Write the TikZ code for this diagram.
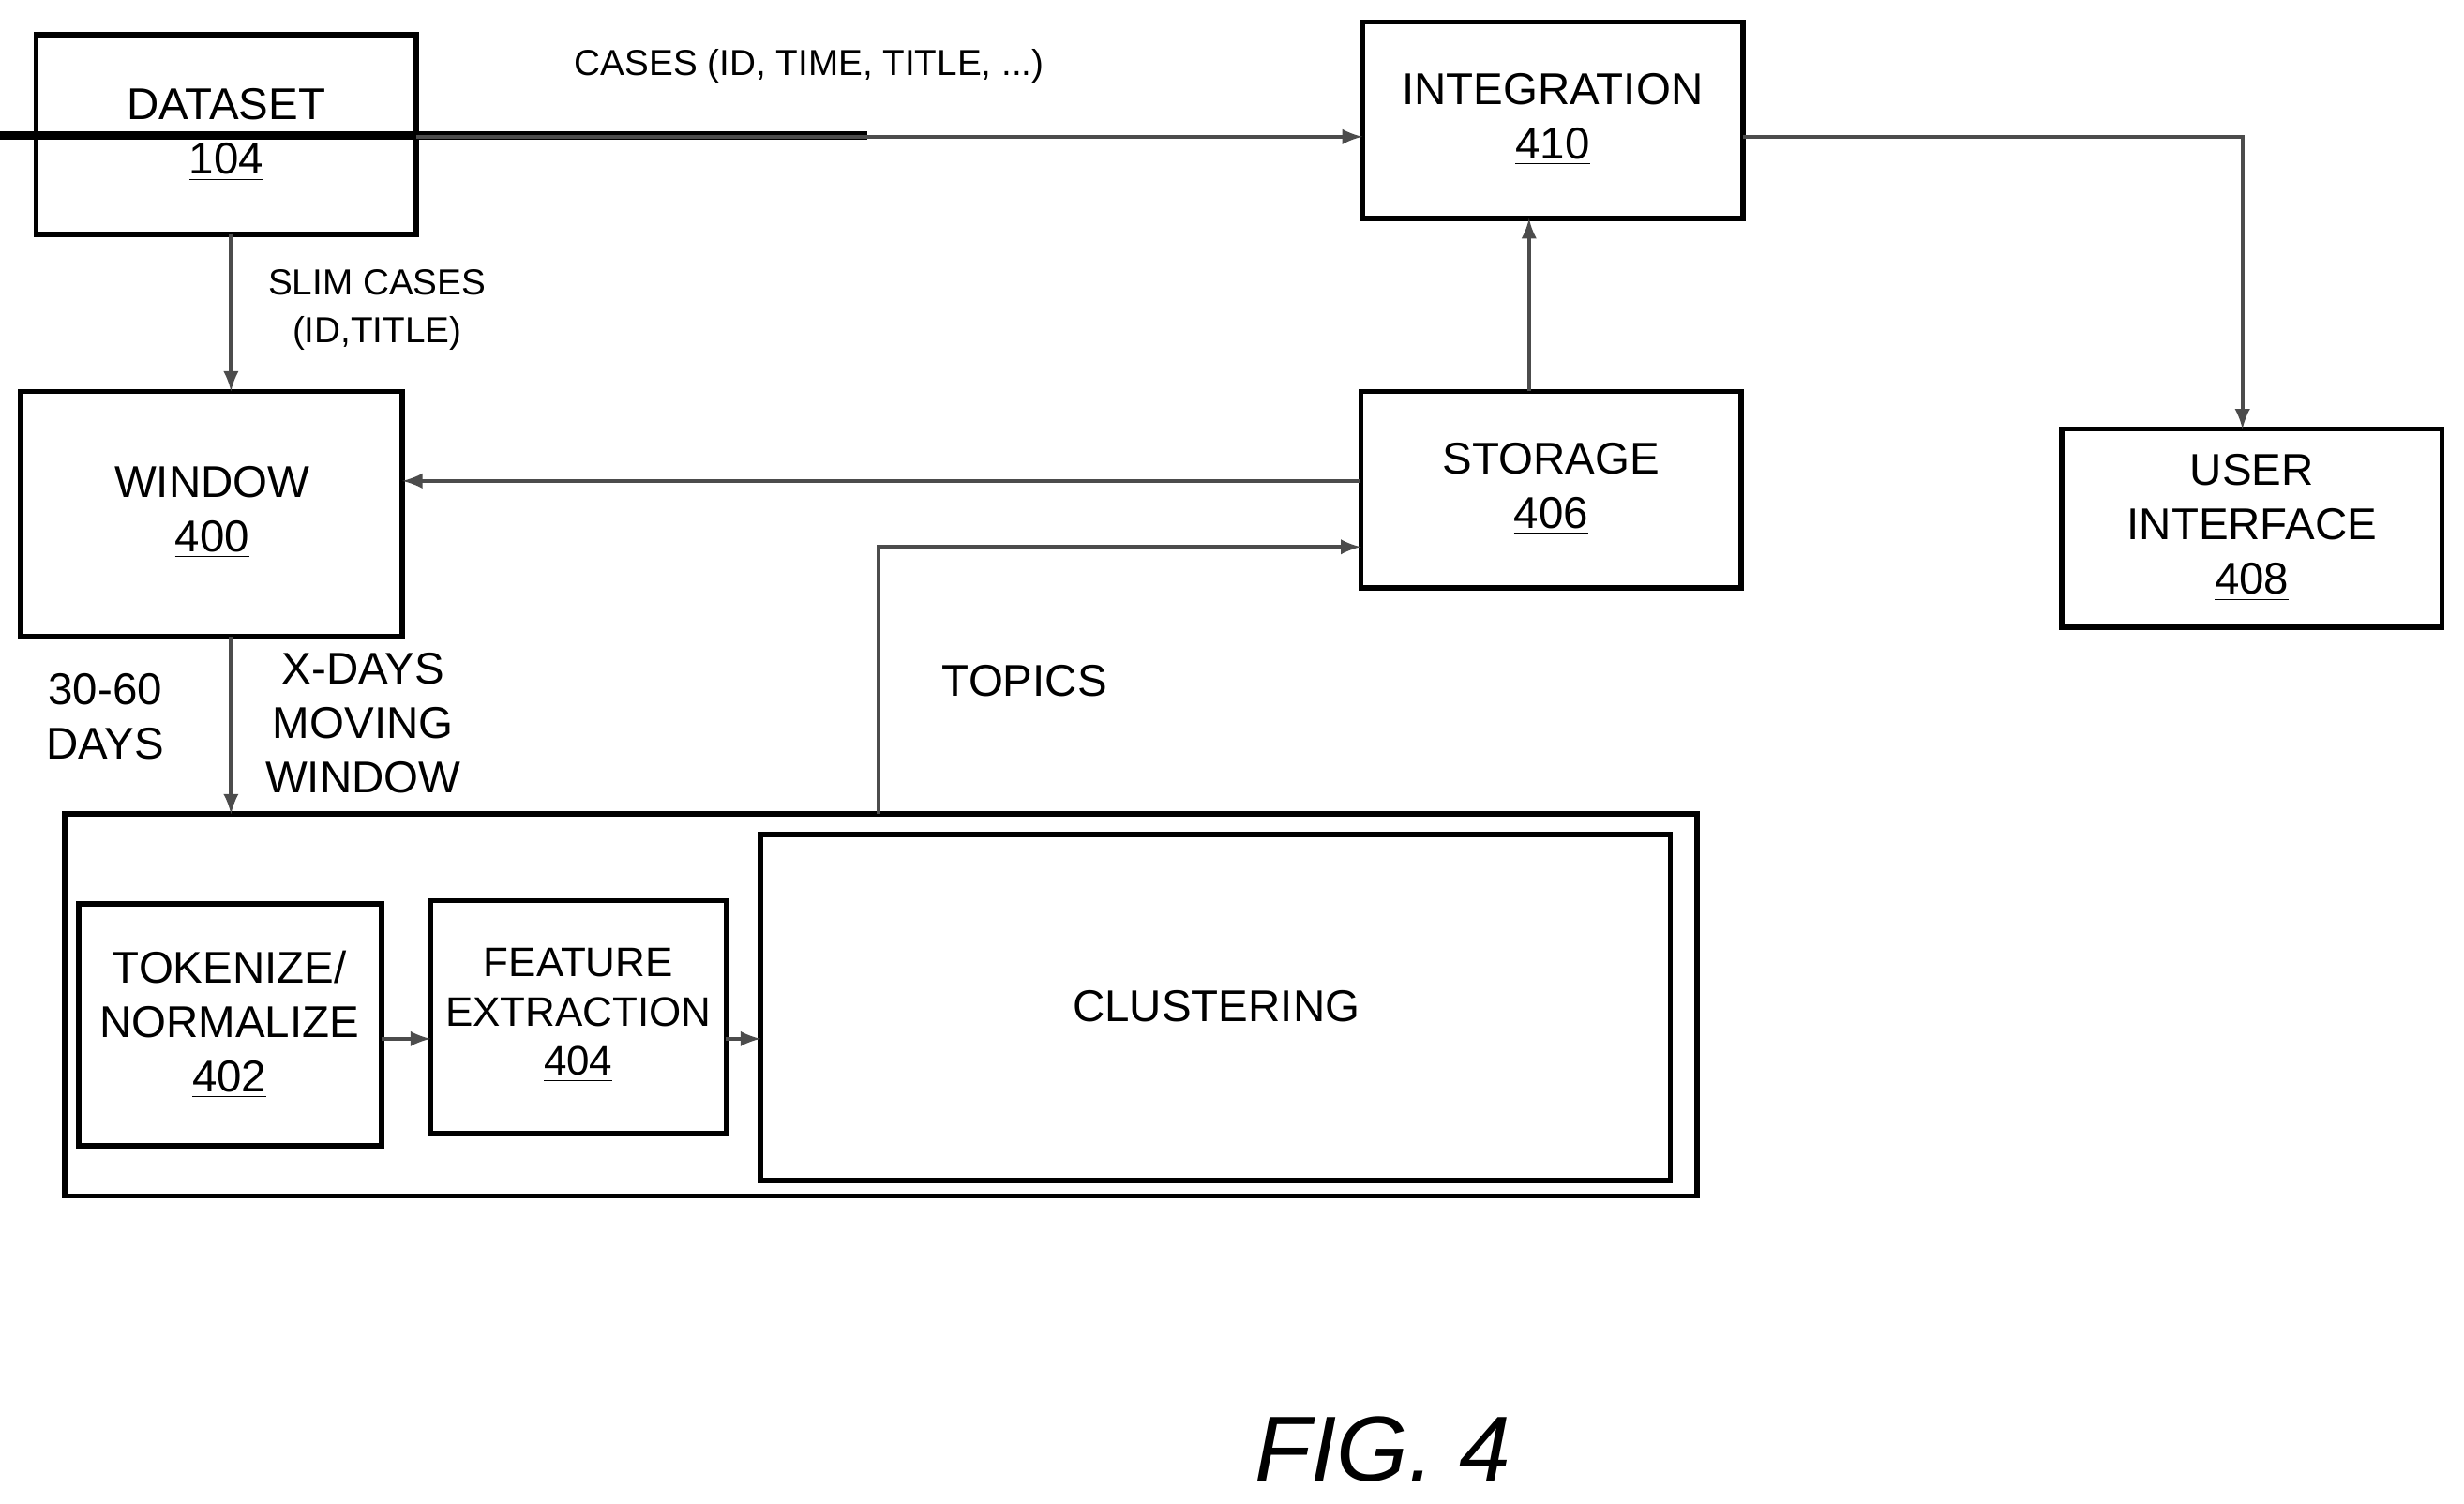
\documentclass[tikz,border=0pt]{standalone}
\usepackage{fontspec}
\setmainfont{Liberation Sans}
\usetikzlibrary{arrows}
\begin{document}
\begin{tikzpicture}[x=0.01676cm,y=-0.01676cm,
    blk/.style={draw=black,line width=1.6pt,inner sep=0pt},
    lbl/.style={align=center,font=\fontsize{13.5}{16.5}\selectfont},
    wire/.style={draw=black!70,line width=1.1pt},
    arr/.style={wire,-latex}]
   \useasboundingbox (0,0) rectangle (1568,957);
   % boxes
   \node (ds) at (144,86) [blk,minimum width=242\pgflinewidth] {};
   \draw [blk] (23,22) rectangle (265,149);
   \draw [blk] (867,14) rectangle (1109,139);
   \draw [blk] (13,249) rectangle (256,405);
   \draw [blk] (866,249) rectangle (1108,374);
   \draw [blk] (1312,273) rectangle (1554,399);
   \draw [blk] (41,518) rectangle (1080,761);
   \draw [blk] (50,575) rectangle (243,729);
   \draw [blk] (274,573) rectangle (462,721);
   \draw [blk] (484,531) rectangle (1063,751);
   % named anchors
   \coordinate (dsR) at (265,87);  \coordinate (inL) at (867,87);
   \coordinate (dsB) at (147,149); \coordinate (wiT) at (147,249);
   \coordinate (stL) at (866,306); \coordinate (wiR) at (256,306);
   \coordinate (stT) at (973,249); \coordinate (inB) at (973,139);
   \coordinate (inR) at (1109,87); \coordinate (uiT) at (1427,273);
   \coordinate (clT) at (559,518); \coordinate (stI) at (866,348);
   \coordinate (wiB) at (147,405); \coordinate (ouT) at (147,518);
   \coordinate (tkR) at (243,661); \coordinate (feL) at (274,661);
   \coordinate (feR) at (462,661); \coordinate (clL) at (484,661);
   % texts
   \node (t1) at (144,86) [lbl] {DATASET\\\underline{104}};
   \node (t2) at (988,76) [lbl] {INTEGRATION\\\underline{410}};
   \node (t3) at (135,326) [lbl] {WINDOW\\\underline{400}};
   \node (t4) at (987,311) [lbl] {STORAGE\\\underline{406}};
   \node (t5) at (1433,336) [lbl] {USER\\INTERFACE\\\underline{408}};
   \node (t6) at (146,652) [lbl] {TOKENIZE/\\NORMALIZE\\\underline{402}};
   \node (t7) at (368,646) [lbl,font=\fontsize{12.5}{15}\selectfont] {FEATURE\\EXTRACTION\\\underline{404}};
   \node (t8) at (774,640) [lbl] {CLUSTERING};
   \node (l1) at (515,42) [lbl,font=\fontsize{11}{13}\selectfont] {CASES (ID, TIME, TITLE, ...)};
   \node (l2) at (240,197) [lbl,font=\fontsize{11}{14.5}\selectfont] {SLIM CASES\\(ID,TITLE)};
   \node (l3) at (67,456) [lbl] {30-60\\DAYS};
   \node (l4) at (231,460) [lbl] {X-DAYS\\MOVING\\WINDOW};
   \node (l5) at (652,433) [lbl] {TOPICS};
   \node (fig) at (880,922) [font=\fontsize{28}{32}\selectfont\itshape] {FIG. 4};
   % connectors
   \draw [arr] (dsR) -- (inL);
   \draw [arr] (dsB) -- (wiT);
   \draw [arr] (stL) -- (wiR);
   \draw [arr] (stT) -- (inB);
   \draw [arr] (inR) -| (uiT);
   \draw [arr] (clT) |- (stI);
   \draw [arr] (wiB) -- (ouT);
   \draw [arr] (tkR) -- (feL);
   \draw [arr] (feR) -- (clL);
\end{tikzpicture}
\end{document}
